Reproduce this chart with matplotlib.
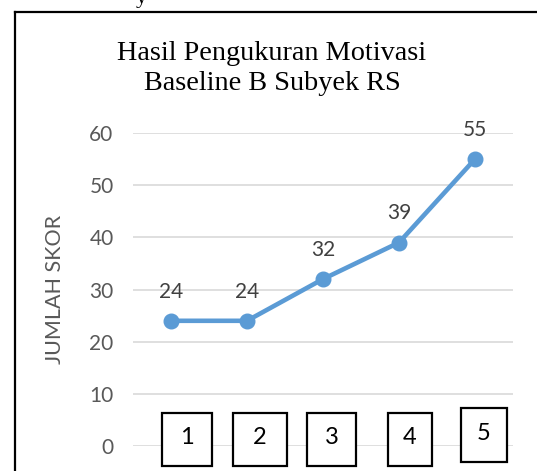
import matplotlib.pyplot as plt
from matplotlib.patches import Rectangle
from matplotlib.lines import Line2D

# data
sesi = ['1', '2', '3', '4', '5']
skor = [24, 24, 32, 39, 55]
y_ticks = [0, 10, 20, 30, 40, 50, 60]

W, H = 537, 471
fig = plt.figure(figsize=(W / 100, H / 100), dpi=100)

# frame of the chart object (left and top edges visible)
fig.add_artist(Line2D([15 / W, 15 / W], [0, 1 - 12 / H], color='black', lw=1.6))
fig.add_artist(Line2D([15 / W, 1], [1 - 12 / H, 1 - 12 / H], color='black', lw=1.6))
# piece of document text above the chart
fig.text(141 / W, 1 - 3 / H, 'y', family='Liberation Serif', fontsize=16,
         ha='center', va='baseline', color='black')

ax = fig.add_axes([133 / W, 1 - 446 / H, 380 / W, 313 / H])
x = list(range(len(sesi)))
ax.plot(x, skor, color='#5B9BD5', lw=3.3, marker='o', markersize=10.5, zorder=3,
        solid_capstyle='round')
for xi, v in zip(x, skor):
    ax.annotate(str(v), (xi, v), xytext=(0, 21), textcoords='offset points',
                ha='center', va='center', fontsize=15, color='#404040',
                family='Lato')

ax.set_xlim(-0.5, len(sesi) - 0.5)
ax.set_ylim(0, 60)
ax.set_yticks(y_ticks)
ax.set_yticklabels([str(t) for t in y_ticks], family='Lato', fontsize=15,
                   color='#595959')
ax.set_xticks([])
ax.tick_params(axis='y', length=0, pad=14)
ax.grid(axis='y', color='#D9D9D9', lw=1.2)
ax.set_axisbelow(True)
for s in ax.spines.values():
    s.set_visible(False)
ax.set_ylabel('JUMLAH SKOR', family='Lato', fontsize=15.5, color='#595959')
ax.yaxis.set_label_coords(-68 / 380, 0.5)

fig.text(272 / W, 1 - 53 / H, 'Hasil Pengukuran Motivasi', family='Liberation Serif',
         fontsize=20.3, ha='center', va='center', color='black')
fig.text(272 / W, 1 - 84 / H, 'Baseline B Subyek RS', family='Liberation Serif',
         fontsize=20.3, ha='center', va='center', color='black')

# text boxes over the category axis (left, top, right, bottom in px)
boxes = [(162, 413, 212, 466), (233, 413, 287, 466), (307, 413, 356, 466),
         (388, 413, 432, 466), (461, 408, 507, 462)]
for lab, (l, t, r, b) in zip(sesi, boxes):
    fig.add_artist(Rectangle((l / W, 1 - b / H), (r - l) / W, (b - t) / H,
                             transform=fig.transFigure, facecolor='white',
                             edgecolor='black', lw=1.6, zorder=5))
    fig.text((l + r) / 2 / W, 1 - ((t + b) / 2 - 2) / H, lab, family='Lato',
             fontsize=17, ha='center', va='center', color='black', zorder=6)

fig.savefig('out.png', dpi=100)
